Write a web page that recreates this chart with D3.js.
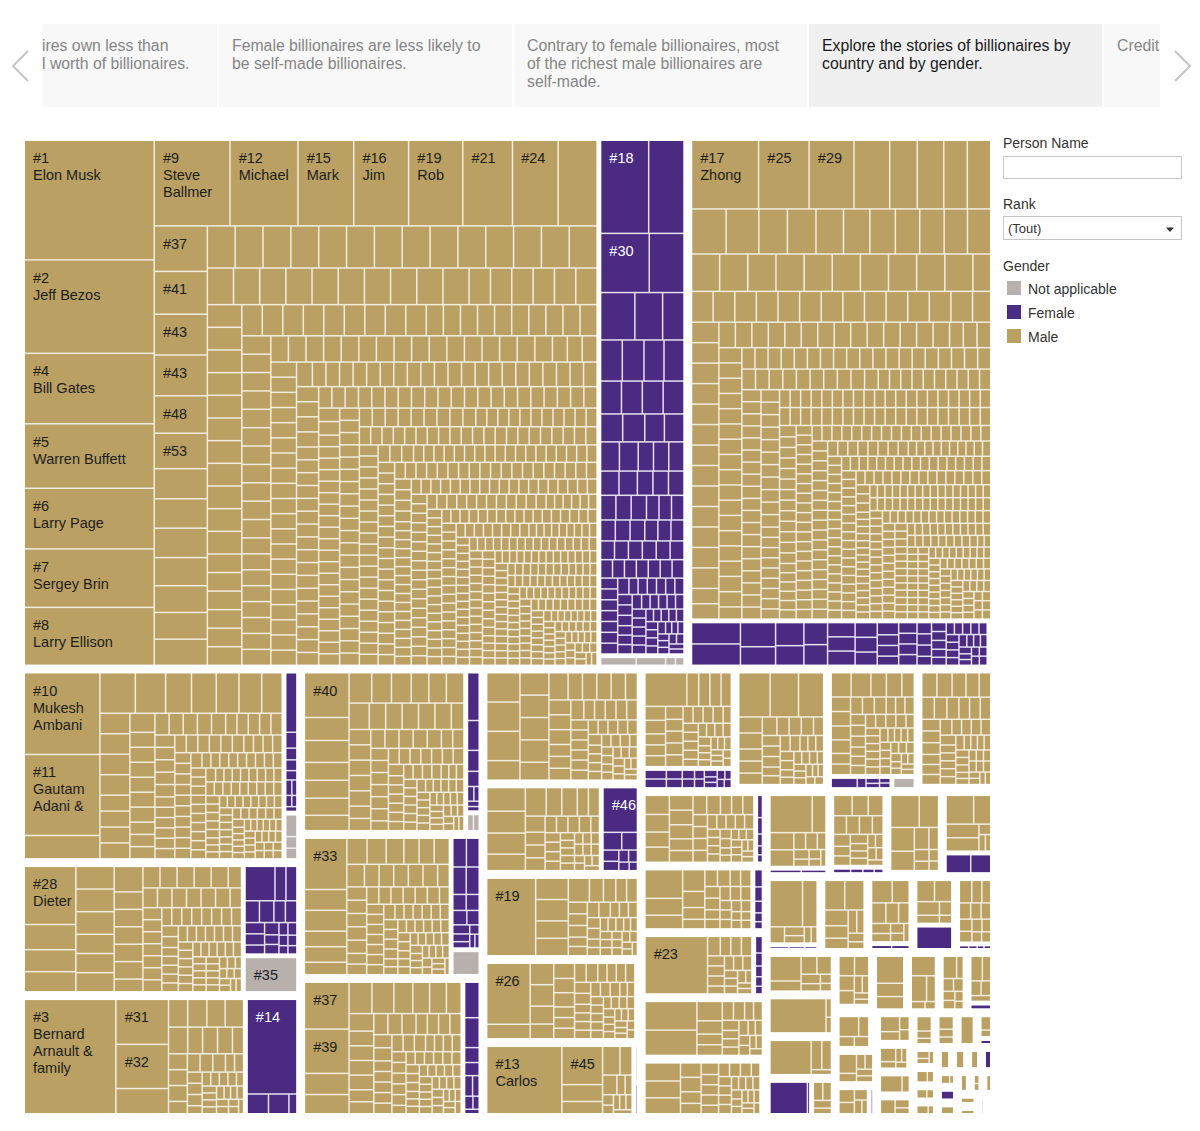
<!DOCTYPE html>
<html>
<head>
<meta charset="utf-8">
<script src="https://cdn.jsdelivr.net/npm/d3@7"></script>
<style>
  body { margin: 0; background: #fff; font-family: Arial, "Liberation Sans", sans-serif; }
  svg { display: block; }
</style>
</head>
<body>
<svg id="chart" width="1200" height="1131"></svg>
<script>
// story points of the carousel
var storyPoints = [
  ["ires own less than", "l worth of billionaires."],
  ["Female billionaires are less likely to", "be self-made billionaires."],
  ["Contrary to female billionaires, most", "of the richest male billionaires are", "self-made."],
  ["Explore the stories of billionaires by", "country and by gender."],
  ["Credits"]
];
var activeStory = 3;

var genders = ["Male", "Female", "Not applicable"];
var legendOrder = ["Not applicable", "Female", "Male"];

var countries = [
  "United States", "China", "India", "Germany", "France", "Russia", "Hong Kong", "Italy",
  "Taiwan", "Australia", "Canada", "United Kingdom", "Mexico", "Brazil", "Sweden",
  "Switzerland", "Japan", "Israel", "Thailand", "Singapore", "South Korea", "Indonesia",
  "Spain", "Turkey", "Philippines", "Malaysia", "Netherlands", "Chile", "Austria", "Norway",
  "Denmark", "Czechia", "Ukraine", "Kazakhstan", "Argentina", "Colombia", "Ireland", "Poland",
  "Vietnam", "Egypt", "Nigeria", "South Africa", "Cyprus", "Monaco", "New Zealand", "Greece",
  "Belgium", "Finland", "Peru", "Lebanon", "United Arab Emirates", "Georgia", "Romania",
  "Portugal", "Hungary", "Iceland", "Macau", "Morocco", "Nepal", "Oman", "Qatar", "Slovakia",
  "Tanzania", "Uruguay", "Venezuela", "Zimbabwe", "Algeria", "Bulgaria", "Estonia"
];

// net worth in $B : [worth, number of people, rank label, name shown]
var maleWorth = [
  ["United States", [[219,1,"#1","Elon Musk"],[171,1,"#2","Jeff Bezos"],[129,1,"#4","Bill Gates"],[118,1,"#5","Warren Buffett"],[111,1,"#6","Larry Page"],[107,1,"#7","Sergey Brin"],[106,1,"#8","Larry Ellison"],[91.4,1,"#9","Steve Ballmer"],[82,1,"#12","Michael"],[67.3,1,"#15","Mark"],[66.2,1,"#16","Jim"],[65.3,1,"#19","Rob"],[60,1,"#21"],[55.1,1,"#24"],[47,1],[34,1,"#37"],[32,1,"#41"],[30.5,2,"#43"],[28,1,"#48"],[26.5,1,"#53"],[22.5,1],[22,2],[21,1],[20,2],[19.5,1],[16.5,14],[13.5,10],[11,17],[9,15],[7.5,21],[6.5,24],[5.5,24],[4.7,25],[4,40],[3.4,50],[2.9,55],[2.5,60],[2.1,65],[1.8,65],[1.5,65],[1.3,40],[1.2,65],[1,40]]],
  ["China", [[65.7,1,"#17","Zhong"],[49.5,1,"#25"],[44,1,"#29"],[35,1],[27,1],[26,1],[23,2],[22.3,1],[21,1],[18.4,2],[17.7,1],[17,1],[16.4,1],[15.7,2],[15,12],[9.5,14],[8,14],[6,16],[5,20],[4,30],[3.3,40],[2.7,50],[2.5,12],[2.2,70],[1.8,80],[1.4,90],[1.3,30],[1.1,80]]],
  ["India", [[90.7,1,"#10","Mukesh Ambani"],[90,1,"#11","Gautam Adani &"],[26,1],[21,1],[18,1],[15.4,1],[14.7,1],[13.5,2],[12.2,1],[9,4],[7,5],[5.5,6],[4.5,8],[3.6,10],[3,12],[2.5,15],[2,20],[1.7,22],[1.4,25],[1.1,25]]],
  ["Germany", [[45,1,"#28","Dieter"],[19.5,1],[17,1],[15.6,1],[13,3],[11,4],[7.5,5],[5.5,6],[4.3,7],[3.4,8],[2.7,10],[2.2,12],[1.8,12],[1.4,12],[1.1,8]]],
  ["France", [[158,1,"#3","Bernard Arnault & family"],[35.7,1,"#31"],[35,1,"#32"],[20,1],[8,2],[7.7,3],[6,3],[4.5,4],[3.5,4],[2.5,5],[1.8,5],[1.5,6],[1.3,5],[1.1,3]]],
  ["Russia", [[30,1,"#40"],[15.4,1],[14.7,1],[12,2],[11.5,1],[10.3,2],[9,2],[8,4],[6.5,5],[5,6],[4,7],[3.2,8],[2.6,9],[2.1,10],[1.7,10],[1.5,10],[1.3,10],[1.1,6]]],
  ["Hong Kong", [[33,1,"#33"],[13.4,2],[10,2],[8,2],[7.6,1],[7,1],[6,4],[5,5],[4,6],[3.2,8],[2.6,9],[2.1,10],[1.7,10],[1.5,9],[1.3,8],[1.1,5]]],
  ["Italy", [[31.7,1,"#37"],[30,1,"#39"],[14.3,1],[13,1],[10.9,1],[10.4,1],[9,1],[8,2],[7,1],[6.6,1],[5.5,4],[4.5,5],[3.6,6],[2.9,8],[2.3,9],[1.8,10],[1.5,10],[1.4,10],[1.1,6]]],
  ["Taiwan", [[15,3],[10,5],[8,2],[6,4],[5,4],[4,4],[3.3,5],[2.7,6],[2.2,6],[1.8,7],[1.5,3],[1.4,7],[1.1,5]]],
  ["Australia", [[14.4,1],[13.4,1],[12.9,1],[10.1,1],[9.4,1],[7,2],[5,3],[4,3],[3,4],[2.3,5],[1.7,5],[1.5,6],[1.2,5]]],
  ["Canada", [[60,1,"#19"],[11,2],[9,2],[8,1],[5.3,1],[4.7,1],[4.1,2],[3.5,3],[2.8,4],[2.2,5],[1.7,5],[1.5,5],[1.3,5],[1.1,3]]],
  ["United Kingdom", [[42,1,"#26"],[10,1],[8,2],[6.7,1],[5.5,1],[5,1],[4.7,2],[3.5,5],[2.8,6],[2.2,7],[1.7,7],[1.5,5],[1.3,7],[1.1,4]]],
  ["Mexico", [[81.2,1,"#13","Carlos"],[25,1,"#45"],[11,1],[8,2],[5.6,1],[4.5,1],[2.6,1],[2.2,1],[1.8,1],[1.5,4],[1.2,1]]],
  ["Brazil", [[22.5,1],[6.4,1],[6,2],[5.5,1],[4.6,1],[4.5,1],[3.6,4],[3.3,4],[2.7,4],[2.2,5],[1.8,6],[1.4,6],[1.1,5]]],
  ["Sweden", [[22,1],[20,1],[17.7,1],[6,2],[4.5,2],[4.3,2],[3.6,3],[3,4],[2.5,4],[2,5],[1.6,5],[1.3,5],[1.1,4]]],
  ["Switzerland", [[7.7,2],[6,2],[4.8,1],[4.5,2],[4.3,1],[4.2,1],[3.3,5],[2.6,6],[2.2,7],[1.8,8],[1.5,4],[1.4,8],[1.1,6]]],
  ["Japan", [[6,2],[5.5,1],[5.2,1],[4.6,1],[4.5,2],[4.3,1],[3.8,3],[3.5,3],[3,4],[2.5,5],[2,6],[1.6,7],[1.3,8],[1.1,4]]],
  ["Israel", [[7.6,1],[7,1],[6,2],[5.7,1],[5.6,1],[5.4,1],[4.5,2],[4.3,2],[3.5,3],[2.8,4],[2.2,5],[1.7,6],[1.3,8],[1.1,4]]],
  ["Thailand", [[10.8,1],[10,1],[9.5,1],[5,2],[4,1],[3.6,1],[3.4,1],[3,3],[2.5,4],[2,5],[1.6,5],[1.3,5],[1.1,3]]],
  ["Singapore", [[27,1],[8.8,1],[7,1],[6.8,1],[3.4,2],[2.5,2],[1.9,2],[1.5,2]]],
  ["South Korea", [[6.6,1],[5.7,1],[5.3,1],[4.2,3],[3.5,2],[2.8,3],[2.2,3],[1.8,3],[1.5,2]]],
  ["Indonesia", [[16,1],[10.8,1],[9.8,1],[8,1],[5.6,1],[3.7,1],[3,1],[2.4,1],[1.9,1],[1.6,1]]],
  ["Spain", [[59.6,1,"#23"],[4.1,1],[3.4,3],[2.8,3],[2.2,4],[1.7,4],[1.3,3]]],
  ["Turkey", [[17.8,1],[10.5,1],[8.5,1],[7.9,1],[5.9,1],[4.3,1],[3.5,3],[2.9,4],[2.4,5],[1.8,5],[1.4,4]]],
  ["Philippines", [[24.8,1],[21.8,1],[8.2,1],[5.6,1],[4.5,2],[3.5,2],[2.8,3],[2.3,4],[1.8,4],[1.4,3]]],
  ["Malaysia", [[14.2,1],[8.8,1],[8,1],[7.9,1],[2.2,1],[1.9,1],[1.6,1]]],
  ["Netherlands", [[26.8,1],[12,1],[4.2,1],[3.1,1],[2.6,1],[2,1],[1.7,1]]],
  ["Chile", [[10.8,1],[10.4,1],[6.7,1],[5.3,1],[4.5,1],[3.6,1],[3.1,1],[2.5,1],[2,1]]],
  ["Austria", [[8.5,1],[7,1],[5.4,1],[4.8,1],[4,1],[3.5,1],[2.9,1],[2.4,1],[2.1,1],[1.8,1]]],
  ["Norway", [[7.2,1],[7,1],[5.9,1],[3.5,1],[3.2,1],[1.9,1]]],
  ["Denmark", [[14.4,1],[5.9,1],[5.3,1],[4.9,1],[3.4,1],[2.7,1],[1.9,1],[1.6,1]]],
  ["Czechia", [[36,1],[1.9,1],[1.6,1]]],
  ["Ukraine", [[5.3,1],[4.3,1],[3.8,1],[3.5,1],[3.2,1],[3,1],[2.9,1],[2.6,1],[2.4,1],[2.1,1],[1.9,1],[1.8,1]]],
  ["Kazakhstan", [[26.5,1],[5.8,1],[5.3,1],[1.9,1]]],
  ["Argentina", [[3.7,1],[3.4,1],[3,1],[2.2,1]]],
  ["Colombia", [[6,1],[5.5,1],[4.5,1],[4.2,1],[2.7,1],[2.2,1],[1.8,1],[1.5,1]]],
  ["Ireland", [[14.8,1],[7.3,1],[6.8,1]]],
  ["Poland", [[9.7,1],[8.1,1],[4.7,1],[2.1,1],[1.6,1]]],
  ["Vietnam", [[6.5,1],[3.2,1],[2.9,1],[2.7,1],[2.3,1],[2.2,1],[1.8,1],[1.4,1]]],
  ["Egypt", [[4.5,1],[3.9,1],[3.1,1],[2.3,1],[1.7,1]]],
  ["Nigeria", [[7.2,1],[3.2,1],[2.7,1],[2.5,1],[2.3,1],[2.1,1]]],
  ["South Africa", [[5.5,1],[3.1,1],[2.2,1]]],
  ["Cyprus", [[5.6,1],[2.8,1],[2.1,1]]],
  ["Monaco", [[4.9,1],[3,1],[2.6,1]]],
  ["New Zealand", [[9.5,1]]],
  ["Greece", [[6.2,1],[4.5,1],[3.3,1],[3.1,1],[2.5,1]]],
  ["Belgium", [[6.6,1],[3.9,1],[2.9,1],[2.4,1]]],
  ["Finland", [[4.3,1],[2.1,1]]],
  ["Peru", [[8.4,1],[4.3,1],[3.3,1],[3.1,1]]],
  ["Lebanon", [[5,1],[2.4,1],[2,1],[1.8,1],[1.6,1]]],
  ["United Arab Emirates", [[9,1],[3,1]]],
  ["Georgia", [[3.2,1],[2.2,1]]],
  ["Romania", [[5,1]]],
  ["Portugal", [[5,1]]],
  ["Iceland", [[3.5,1],[1.7,1]]],
  ["Macau", [[2.9,1],[1.4,1]]],
  ["Morocco", [[4,1]]],
  ["Nepal", [[2.1,1],[1.8,1]]],
  ["Oman", [[3.6,1]]],
  ["Qatar", [[2.8,1],[2.1,1],[1.8,1]]],
  ["Slovakia", [[3.4,1]]],
  ["Tanzania", [[3.8,1],[2.3,1]]],
  ["Uruguay", [[3.1,1]]],
  ["Venezuela", [[2.4,1]]],
  ["Algeria", [[4.6,1]]],
  ["Bulgaria", [[4,1]]]
];

var femaleWorth = [
  ["United States", [[65.3,1,"#18"],[48,1],[42,1,"#30"],[30,1],[23.7,1],[19.2,1],[14.8,1],[13,2],[12,2],[10,4],[9,2],[8,4],[6.5,5],[5.5,6],[4.5,6],[4,3],[3.8,6],[3.2,7],[2.7,8],[2.2,9],[2,4],[1.8,10],[1.4,10],[1.1,10]]],
  ["China", [[16,2],[13,1],[10,2],[8.5,1],[8,1],[7.5,1],[6,3],[5,2],[4.5,1],[4,1],[3.5,2],[3,5],[2.5,3],[2,4],[1.8,2],[1.5,10],[1.3,4],[1.1,6]]],
  ["India", [[12.7,1],[3.4,1],[2.5,1],[2.3,1],[2,1],[1.8,1],[1.5,1],[1.3,1],[1.1,1],[1,1]]],
  ["Germany", [[16.4,1],[6,2],[5,2],[4,2],[3.5,2],[2.8,2],[2.2,2],[1.8,2],[1.5,2],[1.2,2]]],
  ["France", [[74.8,1,"#14"],[6.7,1],[6.4,1],[2.5,1]]],
  ["Russia", [[10.7,1],[6.7,1],[4.7,1],[3.4,1],[1.8,1],[1.5,1],[1.2,1],[1,1]]],
  ["Hong Kong", [[6.6,1],[6.2,2],[6,1],[3.6,1],[3.5,1],[3.4,1],[3,1],[2.6,1],[2.2,1],[1.8,1],[1.5,1],[1.2,1],[1,1]]],
  ["Italy", [[9.5,1],[8,1],[4,1],[3.5,1],[3,1],[2.5,1],[2,1],[1.5,1],[1.2,1]]],
  ["Australia", [[26,1,"#46"],[5.6,1],[4.7,1],[3,1],[2.5,1],[2,1],[1.8,1],[1.5,1],[1.2,1]]],
  ["United Kingdom", [[1.6,1],[1.4,1]]],
  ["Mexico", [[2.6,1]]],
  ["Brazil", [[3.5,2],[2.6,2],[2,2],[1.6,3],[1.3,3],[1.1,3]]],
  ["Sweden", [[1.2,1],[1.1,1]]],
  ["Switzerland", [[5.4,1],[1.8,1],[1.5,1],[1.3,1],[1.1,2]]],
  ["Japan", [[1.4,1],[1.2,1],[1,1]]],
  ["Israel", [[3,1],[2.2,1],[1.6,1],[1.2,1],[1,1]]],
  ["Singapore", [[3.3,1],[2.6,1]]],
  ["South Korea", [[2.1,1],[1.5,1],[1.4,1],[1.1,1]]],
  ["Indonesia", [[1.8,1]]],
  ["Spain", [[2.8,1],[2.2,1],[1.8,1],[1.6,1],[1.3,1]]],
  ["Turkey", [[3.1,1],[2.6,1],[2.1,1],[1.6,1],[1.3,1]]],
  ["Malaysia", [[9,1],[7.3,1]]],
  ["Netherlands", [[1.8,1],[1.5,1],[1.2,1]]],
  ["Austria", [[2.4,1],[2.1,1]]],
  ["Norway", [[15.7,1]]],
  ["Ukraine", [[1.1,1],[1,1],[0.8,2]]],
  ["Argentina", [[23.2,1],[1.5,1]]],
  ["Colombia", [[1.3,1],[1.2,1]]],
  ["Egypt", [[2.6,1]]],
  ["Greece", [[3.1,1]]],
  ["Finland", [[1.9,1]]],
  ["Peru", [[2.3,1]]],
  ["Lebanon", [[1,1]]],
  ["Hungary", [[4.3,1]]],
  ["Zimbabwe", [[2.9,1]]],
  ["Estonia", [[4.3,1]]]
];

var otherWorth = [
  ["United States", [[5.8,1],[4.8,1],[1.6,1],[1.4,1]]],
  ["China", [[1.2,1],[1.1,1]]],
  ["India", [[4.9,1],[2.6,1],[2.4,1]]],
  ["Germany", [[30,1,"#35"]]],
  ["Russia", [[2.2,1],[2.1,1]]],
  ["Hong Kong", [[11.5,1]]],
  ["Mexico", [[3,1]]],
  ["Sweden", [[2,1]]],
  ["Switzerland", [[4.7,1]]],
  ["Thailand", [[2,1]]]
];

// couleurs
var fillColor = { "Male": "#baa063", "Female": "#4b2a82", "Not applicable": "#b8b0ad" };
var lineColor = { "Male": "#f2ecdf", "Female": "#e6e0ef", "Not applicable": "#f1eeed" };

var svg = d3.select("#chart");

// ---------- carousel ----------
var slideW = 293, slideStep = 295, firstSlide = 219 - slideStep;
svg.append("defs").append("clipPath").attr("id", "carouselClip")
  .append("rect").attr("x", 42).attr("y", 20).attr("width", 1118).attr("height", 95);

var car = svg.append("g").attr("clip-path", "url(#carouselClip)");
storyPoints.forEach(function (lines, i) {
  var sx = firstSlide + i * slideStep;
  car.append("rect")
    .attr("x", sx).attr("y", 24).attr("width", slideW).attr("height", 83)
    .attr("fill", i === activeStory ? "#f0f0f0" : "#f8f8f8");
  var tx = i === 0 ? 42 : sx + 13;
  var t = car.append("text")
    .attr("x", tx).attr("y", 51)
    .style("font-size", "15.8px")
    .attr("fill", i === activeStory ? "#1a1a1a" : "#858585");
  lines.forEach(function (l, j) {
    t.append("tspan").attr("x", tx).attr("dy", j ? 18 : 0).text(l);
  });
});
svg.append("polyline").attr("points", "28,51 13,66 28,81")
  .attr("fill", "none").attr("stroke", "#c4c4c4").attr("stroke-width", 2);
svg.append("polyline").attr("points", "1175,51 1190,66 1175,81")
  .attr("fill", "none").attr("stroke", "#c4c4c4").attr("stroke-width", 2);

// ---------- hiérarchie : pays > genre > personne ----------
function expand(list) {
  var out = [];
  list.forEach(function (e) {
    for (var k = 0; k < e[1]; k++) out.push({ worth: e[0], rank: e[2], name: e[3] });
  });
  return out;
}
var byGender = [new Map(maleWorth), new Map(femaleWorth), new Map(otherWorth)];

var tree = {
  name: "World",
  children: countries.map(function (c) {
    return {
      name: c,
      children: genders.map(function (g, gi) {
        return { name: g, gender: g, children: expand(byGender[gi].get(c) || []) };
      }).filter(function (d) { return d.children.length > 0; })
    };
  })
};

var W = 965, H = 972;
var root = d3.hierarchy(tree)
  .sum(function (d) { return d.worth || 0; })
  .sort(function (a, b) { return b.value - a.value; });

d3.treemap()
  .tile(d3.treemapSquarify)
  .size([W, H])
  .paddingInner(function (d) { return d.depth === 0 ? 9 : d.depth === 1 ? 5 : 1.5; })(root);

var map = svg.append("g").attr("transform", "translate(25,141)");

map.append("g").selectAll("rect")
  .data(root.descendants().filter(function (d) { return d.depth === 2; }))
  .join("rect")
  .attr("x", function (d) { return d.x0; })
  .attr("y", function (d) { return d.y0; })
  .attr("width", function (d) { return d.x1 - d.x0; })
  .attr("height", function (d) { return d.y1 - d.y0; })
  .attr("fill", function (d) { return lineColor[d.data.gender]; });

map.append("g").selectAll("rect")
  .data(root.leaves())
  .join("rect")
  .attr("x", function (d) { return d.x0; })
  .attr("y", function (d) { return d.y0; })
  .attr("width", function (d) { return Math.max(0, d.x1 - d.x0); })
  .attr("height", function (d) { return Math.max(0, d.y1 - d.y0); })
  .attr("fill", function (d) { return fillColor[d.parent.data.gender]; });

// étiquettes (rang + nom)
var measure = svg.append("text").style("font-size", "14.5px").attr("visibility", "hidden");
function textW(s) { measure.text(s); return measure.node().getComputedTextLength(); }

var labels = map.append("g").selectAll("text")
  .data(root.leaves().filter(function (d) { return d.data.rank; }))
  .join("text")
  .attr("y", function (d) { return d.y0 + 22; })
  .style("font-size", "14.5px")
  .attr("fill", function (d) { return d.parent.data.gender === "Female" ? "#ffffff" : "#1e1e1e"; });

labels.each(function (d) {
  var maxW = d.x1 - d.x0 - 12;
  var lines = [d.data.rank];
  if (d.data.name) {
    var line = "";
    d.data.name.split(" ").forEach(function (word) {
      var test = line ? line + " " + word : word;
      if (line && textW(test) > maxW) { lines.push(line); line = word; }
      else line = test;
    });
    if (line) lines.push(line);
  }
  var maxLines = Math.floor((d.y1 - d.y0 - 8) / 17);
  var t = d3.select(this);
  lines.slice(0, maxLines).forEach(function (l, i) {
    t.append("tspan").attr("x", d.x0 + 8).attr("dy", i ? 17 : 0).text(l);
  });
});
measure.remove();

// ---------- filtres et légende ----------
var side = svg.append("g").style("font-size", "14px").attr("fill", "#333");
side.append("text").attr("x", 1003).attr("y", 148).text("Person Name");
side.append("rect").attr("x", 1003.5).attr("y", 156.5).attr("width", 178).attr("height", 22)
  .attr("fill", "#fff").attr("stroke", "#c6c6c6");
side.append("text").attr("x", 1003).attr("y", 209).text("Rank");
side.append("rect").attr("x", 1003.5).attr("y", 216.5).attr("width", 178).attr("height", 23)
  .attr("fill", "#fff").attr("stroke", "#c6c6c6");
side.append("text").attr("x", 1008).attr("y", 232.5).style("font-size", "13px").text("(Tout)");
side.append("path").attr("d", "M1166,227.5 L1174,227.5 L1170,232 Z").attr("fill", "#333");
side.append("text").attr("x", 1003).attr("y", 271).text("Gender");

var leg = side.selectAll("g.leg").data(legendOrder).join("g")
  .attr("transform", function (d, i) { return "translate(1007," + (281 + i * 24) + ")"; });
leg.append("rect").attr("width", 14).attr("height", 14)
  .attr("fill", function (d) { return fillColor[d]; });
leg.append("text").attr("x", 21).attr("y", 12.5).text(function (d) { return d; });
</script>
</body>
</html>
